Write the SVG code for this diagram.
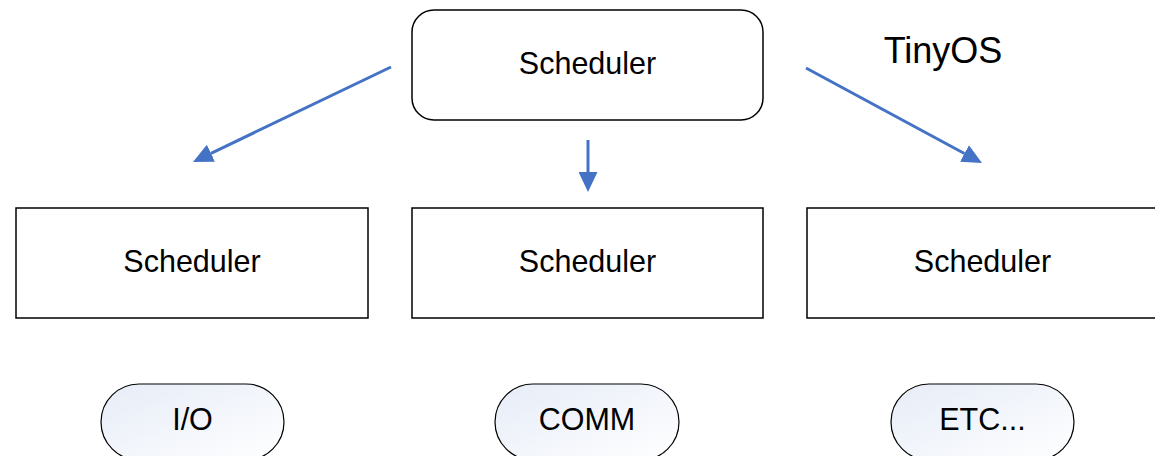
<svg xmlns="http://www.w3.org/2000/svg" width="1155" height="456" viewBox="0 0 1155 456">
  <style>
    text { font-family: "Liberation Sans", Arial, sans-serif; fill: #000; text-anchor: middle; }
    .lbl { font-size: 30.5px; }
    .title { font-size: 36px; }
    .box { fill: #fff; stroke: #000; stroke-width: 1.5; }
    .pill { fill: url(#pillFill); stroke: #000; stroke-width: 1.2; }
    .conn { stroke: #4472c4; stroke-width: 3; fill: none; marker-end: url(#head); }
  </style>
  <defs>
    <linearGradient id="pillFill" x1="0" y1="0" x2="1" y2="1">
      <stop offset="0" stop-color="#e6ecf7"/>
      <stop offset="1" stop-color="#ffffff"/>
    </linearGradient>
    <marker id="head" markerUnits="userSpaceOnUse" markerWidth="20" markerHeight="19" refX="0" refY="9.5" orient="auto">
      <path d="M0,0 L20,9.5 L0,19 Z" fill="#4472c4"/>
    </marker>
  </defs>

  <rect width="1155" height="456" fill="#fff"/>

  <text class="title" x="943" y="63">TinyOS</text>

  <g id="connectors">
    <path class="conn" d="M391,67 L211,153.3"/>
    <path class="conn" d="M588,140 L588,172"/>
    <path class="conn" d="M806,68 L964.4,153.5"/>
  </g>

  <g id="scheduler-top">
    <rect class="box" x="412" y="10" width="351" height="110" rx="22"/>
    <text class="lbl" x="587.5" y="74">Scheduler</text>
  </g>

  <g id="scheduler-left">
    <rect class="box" x="16" y="208" width="352" height="110"/>
    <text class="lbl" x="192" y="272">Scheduler</text>
  </g>
  <g id="scheduler-middle">
    <rect class="box" x="412" y="208" width="351" height="110"/>
    <text class="lbl" x="587.5" y="272">Scheduler</text>
  </g>
  <g id="scheduler-right">
    <rect class="box" x="807" y="208" width="360" height="110"/>
    <text class="lbl" x="982.5" y="272">Scheduler</text>
  </g>

  <g id="io">
    <rect class="pill" x="101" y="384" width="183" height="76" rx="38"/>
    <text class="lbl" x="192.5" y="430">I/O</text>
  </g>
  <g id="comm">
    <rect class="pill" x="495" y="384" width="184" height="76" rx="38"/>
    <text class="lbl" x="587" y="430">COMM</text>
  </g>
  <g id="etc">
    <rect class="pill" x="891" y="384" width="183" height="76" rx="38"/>
    <text class="lbl" x="982.5" y="430">ETC...</text>
  </g>
</svg>
